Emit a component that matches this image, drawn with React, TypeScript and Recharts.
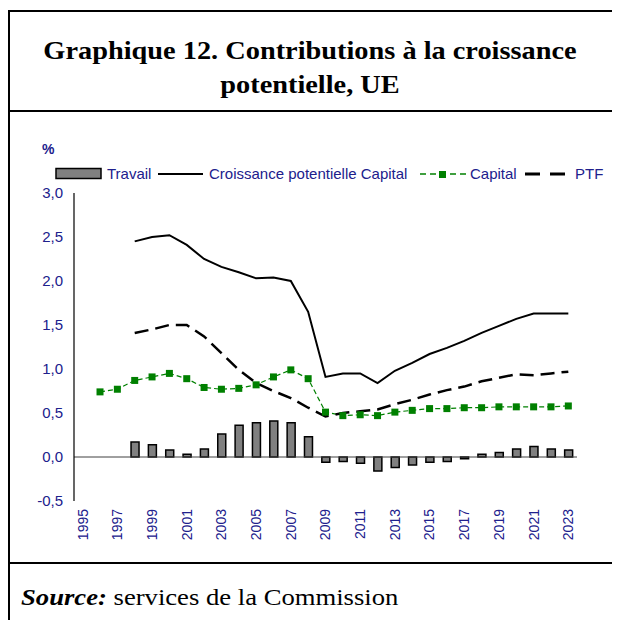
import React from 'react';
import { ComposedChart, Bar, Line, XAxis, YAxis, ReferenceLine, Legend } from 'recharts';

const years = [
  '1995', '1996', '1997', '1998', '1999', '2000', '2001', '2002', '2003', '2004',
  '2005', '2006', '2007', '2008', '2009', '2010', '2011', '2012', '2013', '2014',
  '2015', '2016', '2017', '2018', '2019', '2020', '2021', '2022', '2023',
];

const travail = [
  null, null, null, 0.17, 0.14, 0.08, 0.03, 0.09, 0.26, 0.36,
  0.39, 0.41, 0.39, 0.23, -0.06, -0.05, -0.07, -0.16, -0.12, -0.09,
  -0.06, -0.05, -0.02, 0.03, 0.05, 0.09, 0.12, 0.09, 0.08,
];

const croissance = [
  null, null, null, 2.45, 2.5, 2.52, 2.41, 2.25, 2.16, 2.1,
  2.03, 2.04, 2.0, 1.65, 0.91, 0.95, 0.95, 0.84, 0.98, 1.07,
  1.17, 1.24, 1.32, 1.41, 1.49, 1.57, 1.63, 1.63, 1.63,
];

const capital = [
  null, 0.74, 0.77, 0.87, 0.91, 0.95, 0.89, 0.79, 0.77, 0.78,
  0.82, 0.91, 0.99, 0.89, 0.51, 0.47, 0.48, 0.47, 0.51, 0.53,
  0.55, 0.55, 0.56, 0.56, 0.57, 0.57, 0.57, 0.57, 0.58,
];

const ptf = [
  null, null, null, 1.41, 1.45, 1.5, 1.5, 1.37, 1.18, 0.99,
  0.84, 0.75, 0.67, 0.56, 0.46, 0.5, 0.52, 0.54, 0.6, 0.65,
  0.71, 0.76, 0.8, 0.86, 0.9, 0.94, 0.93, 0.95, 0.97,
];

const yTicks = [-0.5, 0, 0.5, 1, 1.5, 2, 2.5, 3];

const data = years.map((year, i) => ({
  year,
  travail: travail[i],
  croissance: croissance[i],
  capital: capital[i],
  ptf: ptf[i],
}));

const NAVY = '#20208c';
const SANS = '"Liberation Sans", Arial, sans-serif';
const SERIF = '"Liberation Serif", "Times New Roman", serif';

const SquareDot = (props: any) => {
  const { cx, cy, index } = props;
  if (cx == null || cy == null || props.value == null) return <g key={index} />;
  return <rect key={index} x={cx - 3.5} y={cy - 3.5} width={7} height={7} fill="#008000" />;
};

const YearTick = (props: any) => {
  const { x, y, payload } = props;
  const ty = y + 6;
  return (
    <text
      x={x}
      y={ty}
      dy="0.35em"
      transform={`rotate(-90, ${x}, ${ty})`}
      textAnchor="end"
      fill={NAVY}
      fontSize={14}
      fontFamily={SANS}
    >
      {payload.value}
    </text>
  );
};

const renderLegend = () => (
  <svg width={604} height={20} style={{ display: 'block' }}>
    <g fontFamily={SANS} fontSize={15} fill={NAVY}>
      <rect x={48} y={4.5} width={45} height={10} fill="#808080" stroke="#000" strokeWidth={1.5} />
      <text x={99} y={10} dy="0.35em">Travail</text>
      <line x1={150} x2={195} y1={10} y2={10} stroke="#000" strokeWidth={2} />
      <text x={201} y={10} dy="0.35em">Croissance potentielle Capital</text>
      <line x1={412} x2={458} y1={10} y2={10} stroke="#008000" strokeWidth={1.5} strokeDasharray="6 4" />
      <rect x={431} y={7} width={7} height={7} fill="#008000" />
      <text x={462} y={10} dy="0.35em">Capital</text>
      <line x1={517} x2={557} y1={10} y2={10} stroke="#000" strokeWidth={3} strokeDasharray="15 10" />
      <text x={567} y={10} dy="0.35em">PTF</text>
    </g>
  </svg>
);

const App = () => {
  return (
    <div style={{ position: 'relative', width: 612, height: 612, overflow: 'hidden' }}>
      {/* frame */}
      <div style={{ position: 'absolute', left: 0, top: 2, width: 612, height: 2, background: '#000' }} />
      <div style={{ position: 'absolute', left: 0, top: 2, width: 2, height: 610, background: '#000' }} />
      <div style={{ position: 'absolute', left: 0, top: 102, width: 612, height: 2, background: '#000' }} />
      <div style={{ position: 'absolute', left: 0, top: 554, width: 612, height: 2, background: '#000' }} />

      {/* title */}
      <div
        style={{
          position: 'absolute',
          left: 2,
          top: 26,
          width: 600,
          textAlign: 'center',
          fontFamily: SERIF,
          fontWeight: 'bold',
          fontSize: 26,
          lineHeight: '34px',
          color: '#000',
          transform: 'scaleX(1.09)',
        }}
      >
        Graphique 12. Contributions à la croissance
        <br />
        potentielle, UE
      </div>

      {/* unit */}
      <div
        style={{
          position: 'absolute',
          left: 34,
          top: 133,
          fontFamily: SANS,
          fontWeight: 'bold',
          fontSize: 14,
          color: NAVY,
        }}
      >
        %
      </div>

      <div style={{ position: 'absolute', left: 0, top: 105 }}>
        <ComposedChart
          width={604}
          height={449}
          data={data}
          margin={{ top: 60, right: 35, left: 0, bottom: 0 }}
          barCategoryGap={0}
        >
          <XAxis
            dataKey="year"
            interval={1}
            axisLine={false}
            tickLine={false}
            tickSize={0}
            height={61}
            tick={<YearTick />}
          />
          <YAxis
            domain={[-0.5, 3]}
            ticks={yTicks}
            width={66}
            stroke="#000"
            strokeWidth={1.2}
            tickLine={false}
            tickFormatter={(v: number) => v.toFixed(1).replace('.', ',')}
            tick={{ fill: NAVY, fontSize: 15, fontFamily: SANS }}
            tickSize={6}
            tickMargin={5}
          />
          <Legend content={renderLegend} verticalAlign="top" wrapperStyle={{ top: 51, left: 0, width: 604 }} />
          <ReferenceLine y={0} stroke="#404040" strokeWidth={1} />
          <Bar
            dataKey="travail"
            name="Travail"
            fill="#808080"
            stroke="#000"
            strokeWidth={1.5}
            barSize={8}
            isAnimationActive={false}
          />
          <Line
            dataKey="croissance"
            name="Croissance potentielle Capital"
            stroke="#000"
            strokeWidth={2}
            dot={false}
            type="linear"
            isAnimationActive={false}
          />
          <Line
            dataKey="capital"
            name="Capital"
            stroke="#008000"
            strokeWidth={1.2}
            strokeDasharray="5 3"
            dot={<SquareDot />}
            type="linear"
            isAnimationActive={false}
          />
          <Line
            dataKey="ptf"
            name="PTF"
            stroke="#000"
            strokeWidth={2.5}
            strokeDasharray="14 7"
            dot={false}
            type="linear"
            isAnimationActive={false}
          />
        </ComposedChart>
      </div>

      {/* source */}
      <div
        style={{
          position: 'absolute',
          left: 13,
          top: 576,
          fontFamily: SERIF,
          fontSize: 24,
          color: '#000',
          whiteSpace: 'nowrap',
          transformOrigin: 'left center',
          transform: 'scaleX(1.11)',
        }}
      >
        <b>
          <i>Source:</i>
        </b>{' '}
        services de la Commission
      </div>
    </div>
  );
};

export default App;
